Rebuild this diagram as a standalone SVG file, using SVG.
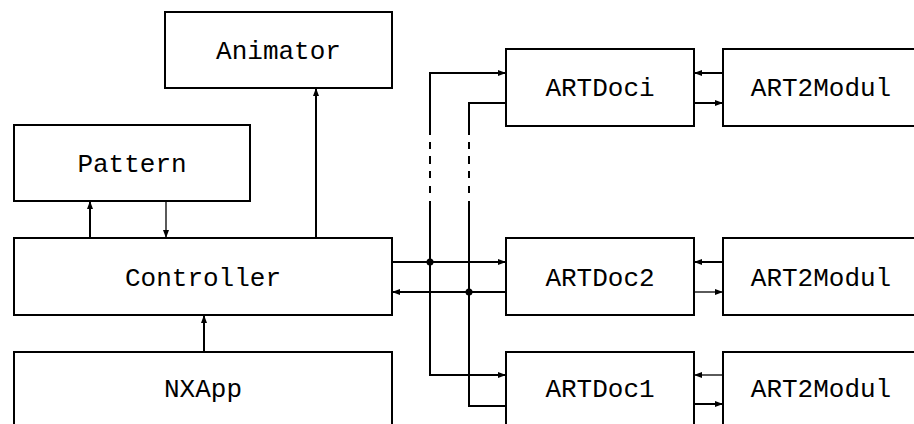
<svg xmlns="http://www.w3.org/2000/svg" width="914" height="424" viewBox="0 0 914 424">
<style>
.box{fill:#fff;stroke:#000;stroke-width:2}
.lbl{font-family:"Liberation Mono","DejaVu Sans Mono",monospace;font-size:26px;text-anchor:middle;fill:#000}
.c{fill:none;stroke:#000;stroke-width:2}
.t{fill:none;stroke:#000;stroke-width:1.3}
</style>
<defs>
<marker id="ah" markerUnits="userSpaceOnUse" markerWidth="9" markerHeight="7" refX="8" refY="3.5" orient="auto">
<path d="M0,0.5 L8,3.5 L0,6.5 z" fill="#000"/>
</marker>
</defs>
<rect width="914" height="424" fill="#fff"/>
<g id="animator"><rect class="box" x="165" y="12" width="227" height="76"/><text class="lbl" x="278.5" y="59">Animator</text></g>
<g id="pattern"><rect class="box" x="14" y="125" width="236" height="76"/><text class="lbl" x="132" y="172">Pattern</text></g>
<g id="controller"><rect class="box" x="14" y="238" width="378" height="77"/><text class="lbl" x="203" y="286">Controller</text></g>
<g id="nxapp"><rect class="box" x="14" y="352" width="378" height="80"/><text class="lbl" x="203" y="397">NXApp</text></g>
<g id="artdoci"><rect class="box" x="506" y="49" width="188" height="77"/><text class="lbl" x="600" y="96">ARTDoci</text></g>
<g id="artdoc2"><rect class="box" x="506" y="238" width="188" height="77"/><text class="lbl" x="600" y="286">ARTDoc2</text></g>
<g id="artdoc1"><rect class="box" x="506" y="352" width="188" height="80"/><text class="lbl" x="600" y="397">ARTDoc1</text></g>
<g id="art2modul-i"><rect class="box" x="723" y="49" width="200" height="77"/><text class="lbl" x="821" y="96">ART2Modul</text></g>
<g id="art2modul-2"><rect class="box" x="723" y="238" width="200" height="77"/><text class="lbl" x="821" y="286">ART2Modul</text></g>
<g id="art2modul-1"><rect class="box" x="723" y="352" width="200" height="80"/><text class="lbl" x="821" y="397">ART2Modul</text></g>
<g id="connectors">
<path class="c" d="M90,238 V201" marker-end="url(#ah)"/>
<path class="t" d="M166,201 V238" marker-end="url(#ah)"/>
<path class="c" d="M316,238 V88" marker-end="url(#ah)"/>
<path class="c" d="M204,352 V315" stroke-width="1.6" marker-end="url(#ah)"/>
<path class="c" d="M392,262 H506" marker-end="url(#ah)"/>
<path class="c" d="M506,292 H392" marker-end="url(#ah)"/>
<circle cx="430" cy="262" r="3.5" fill="#000"/>
<circle cx="469" cy="292" r="3.5" fill="#000"/>
<path class="c" d="M430,135 V73 H506" marker-end="url(#ah)"/>
<path class="c" d="M430,201 V375 H506" marker-end="url(#ah)"/>
<path class="c" d="M506,103 H469 V135"/>
<path class="c" d="M469,201 V406 H506"/>
<path class="c" d="M430,142 V149 M430,156 V164 M430,171 V178 M430,186 V193 M469,142 V149 M469,156 V164 M469,171 V178 M469,186 V193"/>
<path class="c" d="M723,73 H694" marker-end="url(#ah)"/>
<path class="c" d="M694,103 H723" marker-end="url(#ah)"/>
<path class="c" d="M723,262 H694" marker-end="url(#ah)"/>
<path class="t" d="M694,292 H723" marker-end="url(#ah)"/>
<path class="t" d="M723,375 H694" marker-end="url(#ah)"/>
<path class="c" d="M694,404 H723" marker-end="url(#ah)"/>
</g>
</svg>
